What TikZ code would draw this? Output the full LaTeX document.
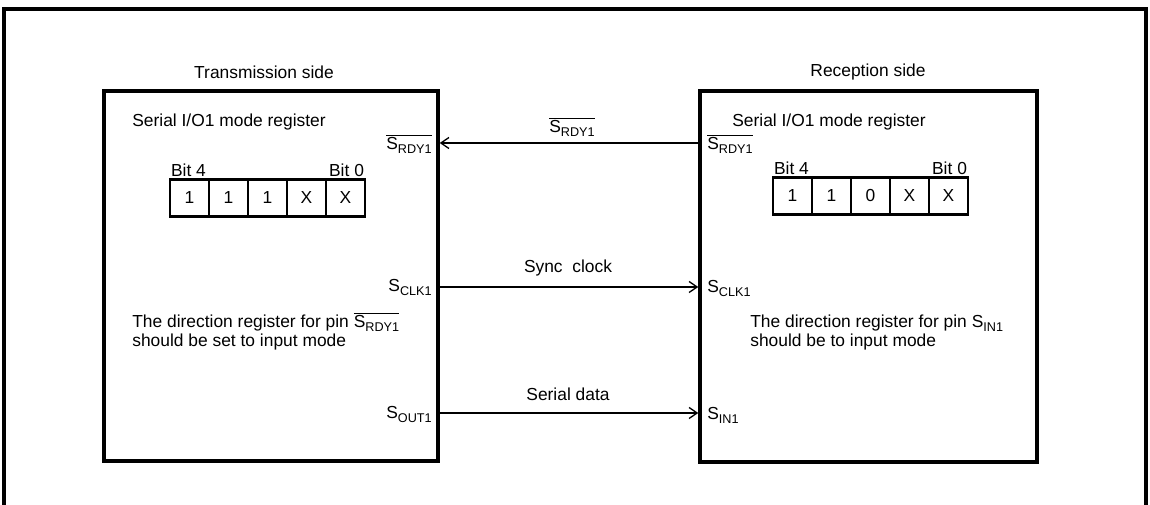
\documentclass[tikz,border=0pt]{standalone}
\usepackage{fontspec}
\setmainfont{Liberation Sans}
\usetikzlibrary{arrows.meta,positioning}
\newcommand{\pin}[1]{S\raisebox{-0.35ex}{\fontsize{7.2}{8}\selectfont #1}}
\newcommand{\pinbar}[1]{$\overline{\mbox{\pin{#1}}}$}
\tikzset{
  sidebox/.style={draw,line width=2pt,inner sep=0pt},
  bitcell/.style={draw,line width=1.2pt,minimum width=7.8mm,minimum height=7.4mm,inner sep=0pt},
  sigline/.style={line width=0.75pt,-{Straight Barb[length=1.6mm,width=2.2mm]}},
  lbl/.style={inner sep=1pt},
}

\begin{document}
\begin{tikzpicture}[x=0.2mm,y=-0.2mm,font=\fontsize{9.9}{11}\selectfont]
  \useasboundingbox (0,0) rectangle (1150,505);
  \draw[line width=1.8pt] (4,505) -- (4,9) -- (1146,9) -- (1146,505);
  % transmission side
  \node[sidebox,minimum width=66.8mm,minimum height=74mm] (tx) at (271,276) {};
  \node (txtitle) at (264,72) {Transmission side};
  \node[anchor=west,inner sep=0pt] (txreg) at (132,122) {Serial I/O1 mode register};
  \foreach \b [count=\i] in {1,1,1,X,X}
    \node[bitcell] (txbit\i) at ({170+39*\i-19.5},198) {\b};
  \node[lbl,anchor=south west] (txbit4lbl) at (txbit1.north west) {Bit 4};
  \node[lbl,anchor=south east] (txbit0lbl) at (txbit5.north east) {Bit 0};
  \node[anchor=base east,inner sep=0pt] (txrdy) at (432,150) {\pinbar{RDY1}};
  \node[anchor=base east,inner sep=0pt] (txclk) at (432,292) {\pin{CLK1}};
  \node[anchor=base east,inner sep=0pt] (txout) at (432,419) {\pin{OUT1}};
  \node[anchor=base west,inner sep=0pt] (txnote1) at (132,328) {The direction register for pin \pinbar{RDY1}};
  \node[anchor=base west,inner sep=0pt] (txnote2) at (132,347) {should be set to input mode};
  % reception side
  \node[sidebox,minimum width=67.4mm,minimum height=74.2mm] (rx) at (868.5,276.5) {};
  \node (rxtitle) at (868,72) {Reception side};
  \node[anchor=west,inner sep=0pt] (rxreg) at (732,122) {Serial I/O1 mode register};
  \foreach \b [count=\i] in {1,1,0,X,X}
    \node[bitcell] (rxbit\i) at ({773+39*\i-19.5},196) {\b};
  \node[lbl,anchor=south west] (rxbit4lbl) at (rxbit1.north west) {Bit 4};
  \node[lbl,anchor=south east] (rxbit0lbl) at (rxbit5.north east) {Bit 0};
  \node[anchor=base west,inner sep=0pt] (rxrdy) at (707,150) {\pinbar{RDY1}};
  \node[anchor=base west,inner sep=0pt] (rxclk) at (707,293) {\pin{CLK1}};
  \node[anchor=base west,inner sep=0pt] (rxin) at (707,420) {\pin{IN1}};
  \node[anchor=base west,inner sep=0pt] (rxnote1) at (750,328) {The direction register for pin \pin{IN1}};
  \node[anchor=base west,inner sep=0pt] (rxnote2) at (750,347) {should be to input mode};
  % signals between the two sides
  \coordinate (rdyfrom) at (rx.west |- 0,143);
  \coordinate (clkfrom) at (tx.east |- 0,287);
  \coordinate (datfrom) at (tx.east |- 0,413);
  \draw[sigline] (rdyfrom) -- (tx.east |- rdyfrom);
  \draw[sigline] (clkfrom) -- (rx.west |- clkfrom);
  \draw[sigline] (datfrom) -- (rx.west |- datfrom);
  \node[anchor=base] (rdylbl) at (572,133) {\pinbar{RDY1}};
  \node[anchor=base] (clklbl) at (568,273) {Sync\ \ clock};
  \node[anchor=base] (datlbl) at (568,401) {Serial data};
\end{tikzpicture}
\end{document}
